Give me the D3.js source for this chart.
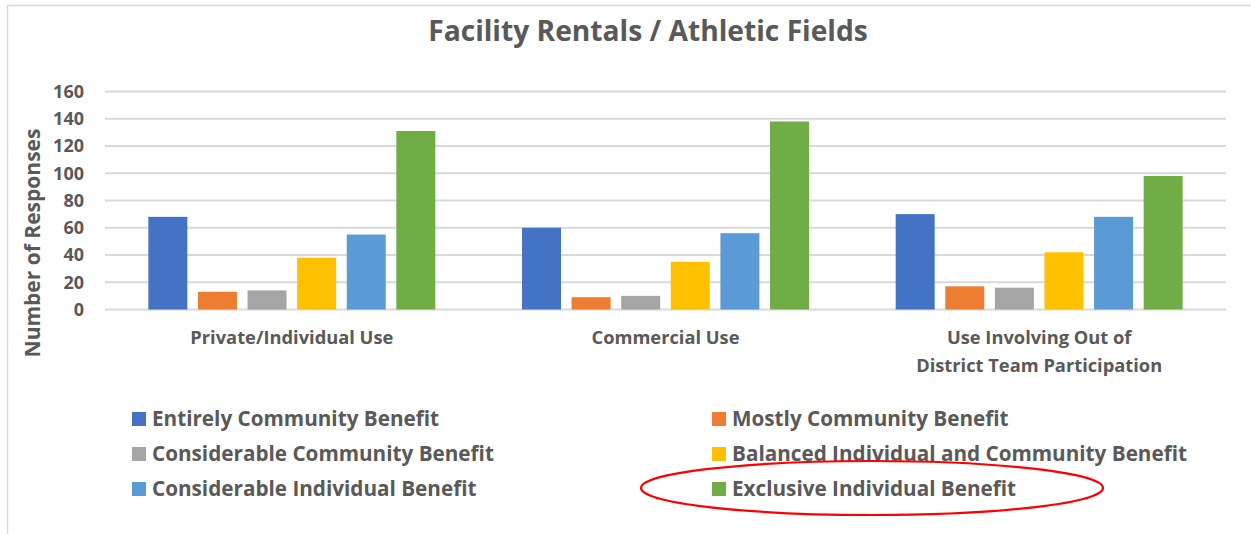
<!DOCTYPE html>
<html>
<head>
<meta charset='utf-8'>
<style>
body { margin:0; background:#fff; }
svg { font-family: 'Open Sans', Lato, sans-serif; font-weight:bold; }
.grid line { stroke:#d9d9d9; stroke-width:2px; }
.tick text, .label { fill:#595959; }
</style>
</head>
<body>
<svg width="1251" height="534"></svg>
<script src="https://d3js.org/d3.v7.min.js"></script>
<script>

// categories / series / values
var categories = ['Private/Individual Use', 'Commercial Use', 'Use Involving Out of\nDistrict Team Participation'];
var series = ['Entirely Community Benefit', 'Mostly Community Benefit', 'Considerable Community Benefit',
              'Balanced Individual and Community Benefit', 'Considerable Individual Benefit', 'Exclusive Individual Benefit'];
var colors = ['#4472c4', '#ed7d31', '#a5a5a5', '#ffc000', '#5b9bd5', '#70ad47'];
var entirelyCommunity      = [68, 60, 70];
var mostlyCommunity        = [13, 9, 17];
var considerableCommunity  = [14, 10, 16];
var balanced               = [38, 35, 42];
var considerableIndividual = [55, 56, 68];
var exclusiveIndividual    = [131, 138, 98];
var yTicks = [0, 20, 40, 60, 80, 100, 120, 140, 160];

var values = [entirelyCommunity, mostlyCommunity, considerableCommunity,
              balanced, considerableIndividual, exclusiveIndividual];

var svg = d3.select('svg');

// outer chart frame (only top and left edges show in the picture)
svg.append('path')
  .attr('d', 'M7.5,534 V5.5 H1251')
  .attr('fill', 'none')
  .attr('stroke', '#d9d9d9')
  .attr('stroke-width', 1.5);

var margin = {left:105, right:1226, top:91.5, bottom:309.5};

var x0 = d3.scaleBand().domain(d3.range(categories.length)).range([margin.left, margin.right]);
var x1 = d3.scaleBand().domain(d3.range(series.length)).range([0, x0.bandwidth()])
  .paddingInner(0.214).paddingOuter(0.874);
var y = d3.scaleLinear().domain([0, 160]).range([margin.bottom, margin.top]);

// gridlines
svg.append('g').attr('class', 'grid')
  .selectAll('line').data(yTicks).enter().append('line')
    .attr('x1', margin.left).attr('x2', margin.right)
    .attr('y1', d => y(d)).attr('y2', d => y(d));

// y axis labels
var yAxis = svg.append('g')
  .attr('transform', 'translate(84,0)')
  .call(d3.axisLeft(y).tickValues(yTicks).tickSize(0).tickPadding(0));
yAxis.select('.domain').remove();
yAxis.selectAll('text').attr('font-size', 18).attr('font-family', 'Open Sans').attr('font-weight', 'bold');

// bars
var groups = svg.append('g').selectAll('g')
  .data(categories).enter().append('g')
    .attr('transform', (d, i) => 'translate(' + x0(i) + ',0)');

groups.selectAll('rect')
  .data((d, ci) => values.map((v, si) => ({s:si, v:v[ci]})))
  .enter().append('rect')
    .attr('x', d => x1(d.s))
    .attr('width', x1.bandwidth())
    .attr('y', d => y(d.v))
    .attr('height', d => y(0) - y(d.v))
    .attr('fill', d => colors[d.s]);

// category labels
var catLabels = svg.append('g').selectAll('text')
  .data(categories).enter().append('text')
    .attr('class', 'label')
    .attr('text-anchor', 'middle')
    .attr('font-size', 18.3)
    .attr('x', (d, i) => x0(i) + x0.bandwidth() / 2)
    .attr('y', 344);
catLabels.selectAll('tspan')
  .data(d => d.split('\n')).enter().append('tspan')
    .attr('x', function() { return d3.select(this.parentNode).attr('x'); })
    .attr('dy', (d, i) => i ? 28 : 0)
    .text(d => d);

// title
svg.append('text').attr('class', 'label')
  .attr('x', 648).attr('y', 41)
  .attr('text-anchor', 'middle')
  .attr('font-size', 28.2)
  .text('Facility Rentals / Athletic Fields');

// y axis title
svg.append('text').attr('class', 'label')
  .attr('transform', 'translate(40,243) rotate(-90)')
  .attr('text-anchor', 'middle')
  .attr('font-size', 21)
  .text('Number of Responses');

// legend, two columns
var legendCols = [132, 712], legendRows = [419, 454, 489];
var legend = svg.append('g').selectAll('g')
  .data(series).enter().append('g')
    .attr('transform', (d, i) => 'translate(' + legendCols[i % 2] + ',' + legendRows[Math.floor(i / 2)] + ')');
legend.append('rect')
  .attr('x', 0).attr('y', -7).attr('width', 14).attr('height', 14)
  .attr('fill', (d, i) => colors[i]);
legend.append('text').attr('class', 'label')
  .attr('x', 20).attr('dy', '0.36em')
  .attr('font-size', 20.7)
  .text(d => d);

// red ellipse round the last legend entry
var last = legendRows[2];
svg.append('ellipse')
  .attr('cx', 872).attr('cy', last - 1)
  .attr('rx', 231).attr('ry', 27)
  .attr('fill', 'none')
  .attr('stroke', '#ff0000')
  .attr('stroke-width', 2.2);

</script>
</body>
</html>
